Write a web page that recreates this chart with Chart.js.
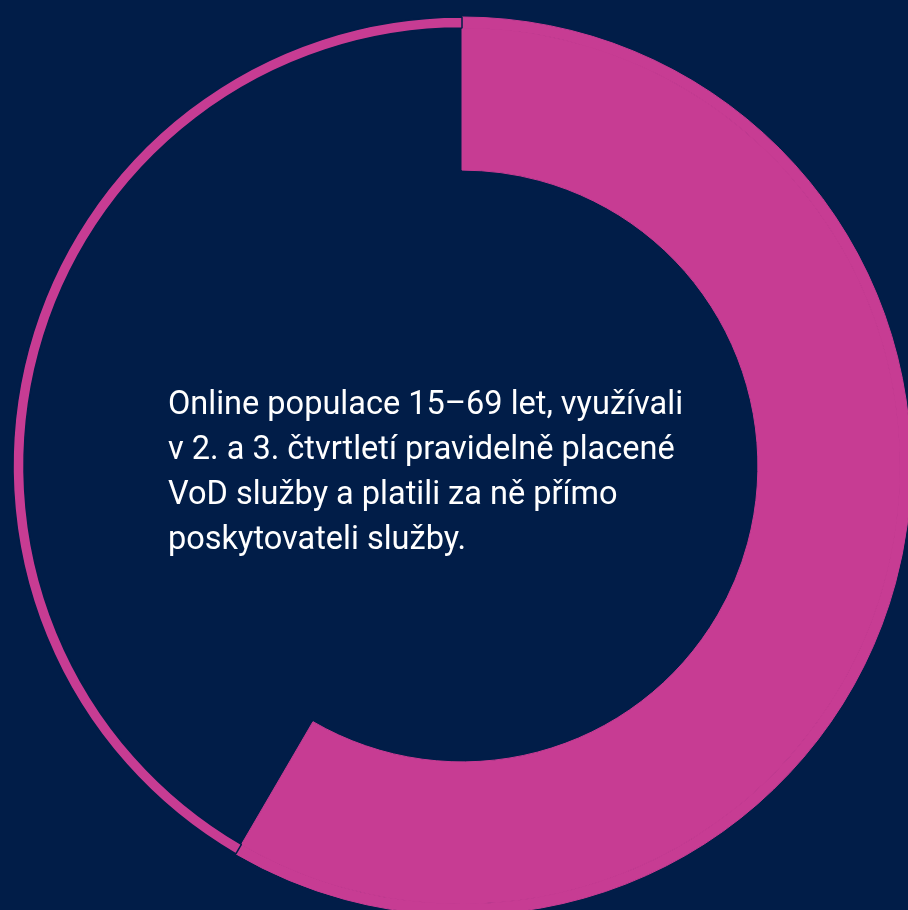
<!DOCTYPE html>
<html lang="cs">
<head>
<meta charset="utf-8">
<title>Placené VoD služby</title>
<script src="https://cdn.jsdelivr.net/npm/chart.js@4"></script>
<style>
  html, body { margin: 0; padding: 0; background: #011d48; overflow: hidden; }
  body { width: 908px; height: 910px; position: relative; }
  #wrap { position: absolute; left: 0; top: 0; width: 924px; height: 932px; }
  #donut { display: block; }
  #caption {
    position: absolute; left: 168px; top: 381px;
    font-family: Roboto, "Noto Sans", sans-serif; font-size: 32.5px; line-height: 45px;
    color: #ffffff; white-space: nowrap;
  }
</style>
</head>
<body>
<div id="wrap"><canvas id="donut" width="924" height="932"></canvas></div>
<div id="caption">Online populace 15–69 let, využívali<br>v 2. a 3. čtvrtletí pravidelně placené<br>VoD služby a platili za ně přímo<br>poskytovateli služby.</div>
<script>
const labels = ['Platí přímo poskytovateli', 'Ostatní'];
const shares = [58.4, 41.6];

const pink = '#c73c93';
const navy = '#011d48';

new Chart(document.getElementById('donut').getContext('2d'), {
    type: 'doughnut',
    data: {
        labels: labels,
        datasets: [{
            // thin outer ring
            data: shares,
            backgroundColor: [pink, pink],
            borderColor: [pink, navy],
            borderWidth: [1, 1.5],
            weight: 11
        }, {
            // thick segment
            data: shares,
            backgroundColor: [pink, 'rgba(0,0,0,0)'],
            borderColor: [pink, 'rgba(0,0,0,0)'],
            borderWidth: [1, 0],
            weight: 142
        }]
    },
    options: {
        responsive: false,
        animation: false,
        events: [],
        radius: 449,
        cutout: '65.9%',
        plugins: { legend: { display: false }, tooltip: { enabled: false } }
    }
});
</script>
</body>
</html>
